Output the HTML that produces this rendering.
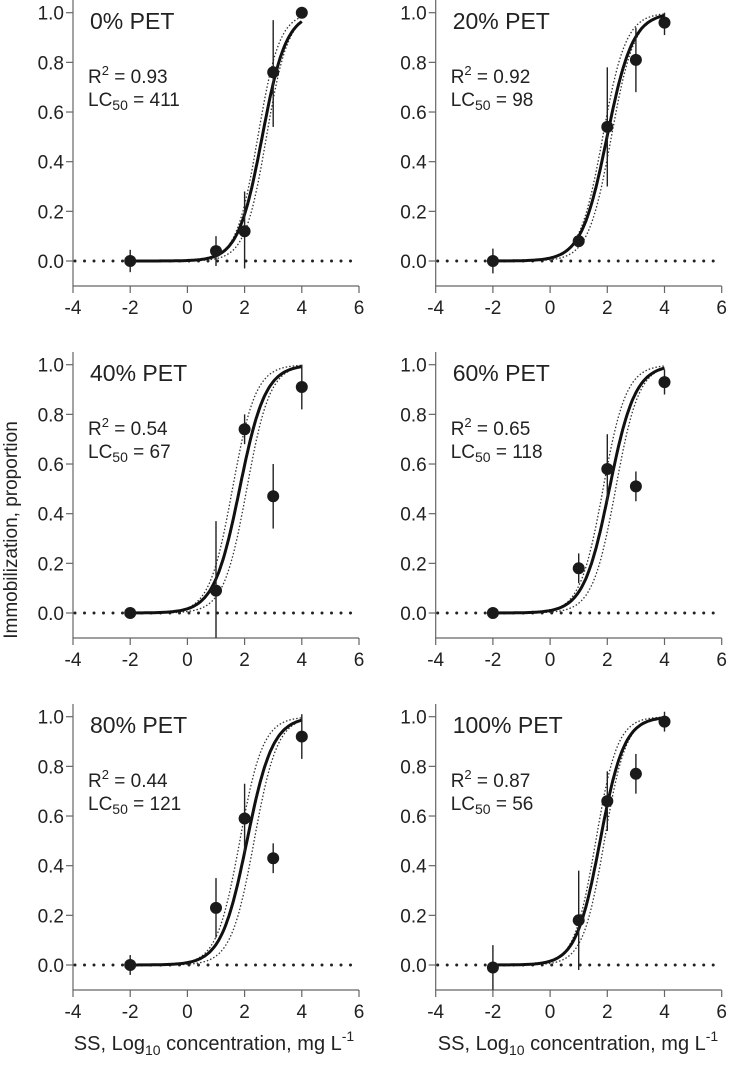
<!DOCTYPE html>
<html><head><meta charset="utf-8"><style>
body{margin:0;background:#fff}
svg{display:block;font-family:"Liberation Sans",Arial,sans-serif}
</style></head><body>
<svg id="c" width="743" height="1067" viewBox="0 0 743 1067">
<text transform="translate(17,530) rotate(-90)" text-anchor="middle" font-size="19" fill="#222">Immobilization, proportion</text>
<text x="214" y="1050" text-anchor="middle" font-size="20" fill="#222">SS, Log<tspan font-size="14" dy="5">10</tspan><tspan dy="-5"> concentration, mg L</tspan><tspan font-size="14" dy="-9">-1</tspan></text>
<text x="578" y="1050" text-anchor="middle" font-size="20" fill="#222">SS, Log<tspan font-size="14" dy="5">10</tspan><tspan dy="-5"> concentration, mg L</tspan><tspan font-size="14" dy="-9">-1</tspan></text>
</svg>
<script>
const titles=["0% PET","20% PET","40% PET","60% PET","80% PET","100% PET"];
const r2Labels=["0.93","0.92","0.54","0.65","0.44","0.87"];
const lc50Values=[411,98,67,118,121,56];
const slopes=[0.42,0.45,0.45,0.45,0.45,0.42];
const ciShift=[0.15,0.15,0.25,0.22,0.25,0.15];
const xVals=[-2,1,2,3,4];
const yVals=[[0,0.04,0.12,0.76,1.0],[0,0.08,0.54,0.81,0.96],[0,0.09,0.74,0.47,0.91],[0,0.18,0.58,0.51,0.93],[0,0.23,0.59,0.43,0.92],[-0.01,0.18,0.66,0.77,0.98]];
const yLo=[[-0.045,-0.02,-0.03,0.54,1.0],[-0.05,0.06,0.3,0.68,0.91],[0,-0.1,0.68,0.34,0.82],[0,0.12,0.44,0.45,0.88],[-0.04,0.11,0.45,0.37,0.83],[-0.1,-0.02,0.54,0.69,0.94]];
const yHi=[[0.045,0.1,0.28,0.97,1.0],[0.05,0.1,0.78,0.94,1.0],[0,0.37,0.8,0.6,1.0],[0,0.24,0.72,0.57,0.98],[0.04,0.35,0.73,0.49,1.01],[0.08,0.38,0.78,0.85,1.02]];
const xTicks=[-4,-2,0,2,4,6];
const yTicks=[0,0.2,0.4,0.6,0.8,1.0];
const NS="http://www.w3.org/2000/svg";
const svg=document.getElementById('c');
function mk(t,a,p){const e=document.createElementNS(NS,t);for(const k in a)e.setAttribute(k,a[k]);p.appendChild(e);return e;}
titles.forEach((title,i)=>{
  const ox=(i%2)*362.7, oy=Math.floor(i/2)*352;
  const X=v=>ox+73+(v+4)*28.6, Y=v=>oy+261-v*248.3;
  const g=mk('g',{},svg);
  
  
  const ax=mk('path',{d:`M${X(-4)},${oy} V${oy+286} H${X(6)}`,stroke:'#666','stroke-width':1.2,fill:'none'},g);
  
  
  xTicks.forEach(t=>{
    mk('line',{x1:X(t),x2:X(t),y1:oy+286,y2:oy+293,stroke:'#666','stroke-width':1.2},g);
    const tx=mk('text',{x:X(t),y:oy+314,'text-anchor':'middle','font-size':19,fill:'#222'},g);
    
    
    tx.textContent=t;
  });
  yTicks.forEach(t=>{
    mk('line',{x1:X(-4)-7,x2:X(-4),y1:Y(t),y2:Y(t),stroke:'#666','stroke-width':1.2},g);
    const tx=mk('text',{x:X(-4)-9,y:Y(t)+7,'text-anchor':'end','font-size':19,fill:'#222'},g);
    
    
    tx.textContent=t.toFixed(1);
  });
  const zl=mk('line',{x1:X(-4)+2,x2:X(6),y1:Y(0),y2:Y(0),stroke:'#222','stroke-width':3,'stroke-dasharray':'0 9.5','stroke-linecap':'round'},g);
  
  
  const m=Math.log10(lc50Values[i]), s=slopes[i];
  const curve=(mm,ss)=>{let d='';for(let x=-2;x<=4.0001;x+=0.05){const y=1/(1+Math.exp(-(x-mm)/ss));d+=(d?'L':'M')+X(x).toFixed(1)+','+Y(y).toFixed(1);}return d;};
  [-1,1].forEach(k=>{
    const c=mk('path',{d:curve(m+k*ciShift[i],s*0.9),stroke:'#333','stroke-width':1.3,fill:'none','stroke-dasharray':'1.5 2'},g);
    
    
  });
  const fc=mk('path',{d:curve(m,s),stroke:'#111','stroke-width':3,fill:'none'},g);
  
  
  xVals.forEach((xv,j)=>{
    const eb=mk('line',{x1:X(xv),x2:X(xv),y1:Y(yLo[i][j]),y2:Y(yHi[i][j]),stroke:'#222','stroke-width':1.4},g);
    
    
    const pt=mk('circle',{cx:X(xv),cy:Y(yVals[i][j]),r:6,fill:'#1a1a1a'},g);
    
    
  });
  const tt=mk('text',{x:ox+90,y:oy+29,'font-size':23,fill:'#222'},g);
  
  
  tt.textContent=title;
  const r=mk('text',{x:ox+88,y:oy+83,'font-size':19,fill:'#222'},g);
  
  
  r.innerHTML='R<tspan font-size="13" dy="-8">2</tspan><tspan dy="8"> = '+r2Labels[i]+'</tspan>';
  const l=mk('text',{x:ox+88,y:oy+106,'font-size':19,fill:'#222'},g);
  
  
  l.innerHTML='LC<tspan font-size="14" dy="4">50</tspan><tspan dy="-4"> = '+lc50Values[i]+'</tspan>';
});
</script>
</body></html>
